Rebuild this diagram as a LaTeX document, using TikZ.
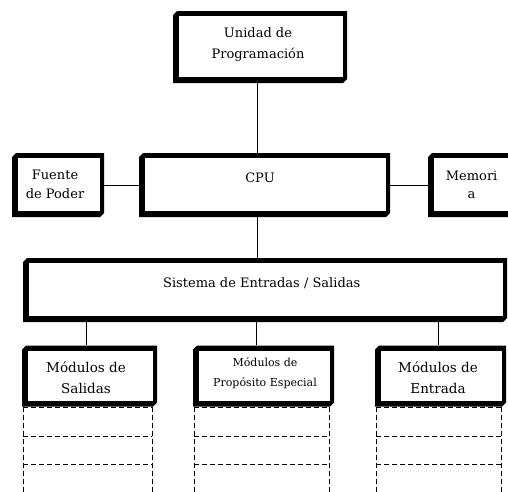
\documentclass[tikz,border=0pt]{standalone}
\usepackage{fontspec}
\setmainfont{DejaVu Serif}
\begin{document}
\begin{tikzpicture}[x=1pt,y=-1pt,
  % framed block: heavy black frame with two bevelled corners
  block/.style={rectangle, inner sep=0pt, fill=white,
    path picture={
      \fill[black]
        ([xshift=4pt]path picture bounding box.north west)
        -- (path picture bounding box.north east)
        -- ([yshift=4pt]path picture bounding box.south east)
        -- ([xshift=-4pt]path picture bounding box.south east)
        -- (path picture bounding box.south west)
        -- ([yshift=-4pt]path picture bounding box.north west) -- cycle;
      \fill[white]
        ([xshift=6pt,yshift=-5pt]path picture bounding box.north west)
        rectangle ([xshift=-4pt,yshift=6pt]path picture bounding box.south east);
    }},
  lbl/.style={inner sep=0pt, align=center, font=\fontsize{13}{21}\selectfont},
  link/.style={line width=0.8pt},
  slot/.style={line width=0.8pt, dash pattern=on 5pt off 3pt}
]
\useasboundingbox[fill=white] (0,0) rectangle (508,491);

% blocks (centre, width, height)
\node[block, minimum width=174pt, minimum height=72pt] (prog) at (260,47) {};
\node[block, minimum width=92pt,  minimum height=64pt] (fuente) at (58,185) {};
\node[block, minimum width=251pt, minimum height=64pt] (cpu) at (264.5,185) {};
\node[block, minimum width=90pt,  minimum height=64pt] (mem) at (473,185) {};
\node[block, minimum width=484pt, minimum height=64pt] (es) at (265,290) {};
\node[block, minimum width=135pt, minimum height=61pt] (msal) at (89.5,376) {};
\node[block, minimum width=141pt, minimum height=61pt] (mesp) at (263.5,376) {};
\node[block, minimum width=131pt, minimum height=61pt] (ment) at (440.5,376) {};

% texts
\node[lbl, anchor=north] (prog-t) at (258,27) {Unidad de\\Programación};
\node[lbl, anchor=base] (cpu-t) at (260,182) {CPU};
\node[lbl, anchor=north, font=\fontsize{13}{19}\selectfont] (fuente-t) at (55,170) {Fuente\\de Poder};
\node[lbl, anchor=north, font=\fontsize{13}{18}\selectfont] (mem-t) at (471.6,171) {Memori\\a};
\node[lbl, anchor=base] (es-t) at (261.7,287) {Sistema de Entradas / Salidas};
\node[lbl, anchor=north, font=\fontsize{13.5}{21}\selectfont] (msal-t) at (86,361) {Módulos de\\Salidas};
\node[lbl, anchor=north, font=\fontsize{11}{20}\selectfont] (mesp-t) at (265,357) {Módulos de\\Propósito Especial};
\node[lbl, anchor=north, font=\fontsize{13.5}{21}\selectfont] (ment-t) at (438,361) {Módulos de\\Entrada};

% connectors
\draw[link] ([xshift=-3pt]prog.south) -- ([xshift=-3pt]prog.south |- cpu.north);
\draw[link] (fuente.east) -- (cpu.west);
\draw[link] (cpu.east) -- (cpu.east -| mem.west);
\draw[link] ([xshift=-7.5pt]cpu.south) -- ([xshift=-7.5pt]cpu.south |- es.north);
\draw[link] ([xshift=-3pt]msal.north) -- ([xshift=-3pt]msal.north |- es.south);
\draw[link] ([xshift=-7pt]mesp.north) -- ([xshift=-7pt]mesp.north |- es.south);
\draw[link] ([xshift=-2.5pt]ment.north) -- ([xshift=-2.5pt]ment.north |- es.south);

% dashed module slots below each block
\foreach \m in {msal,mesp,ment}{
  \coordinate (\m-l) at ([xshift=1.5pt]\m.south west);
  \coordinate (\m-r) at ([xshift=-5pt]\m.south east);
  \draw[slot] ([yshift=-1pt]\m-l) -- ([yshift=-1pt]\m-r);
  \draw[slot] (\m-l) -- (\m-l |- 0,495);
  \draw[slot] (\m-r) -- (\m-r |- 0,495);
  \draw[slot] (\m-l |- 0,436) -- (\m-r |- 0,436);
  \draw[slot] (\m-l |- 0,464) -- (\m-r |- 0,464);
}
\end{tikzpicture}
\end{document}
